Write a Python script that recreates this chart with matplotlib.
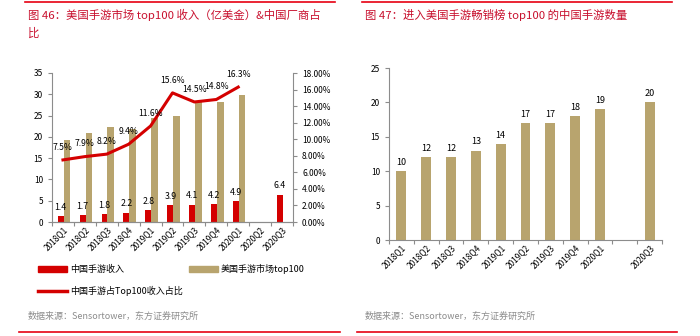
import numpy as np
import matplotlib
matplotlib.use("Agg")
import matplotlib.pyplot as plt
from matplotlib.lines import Line2D
from matplotlib.patches import Patch

plt.rcParams['font.family'] = ['Noto Sans CJK SC', 'DejaVu Sans']

#%% data
quarters = ['2018Q1', '2018Q2', '2018Q3', '2018Q4', '2019Q1', '2019Q2',
            '2019Q3', '2019Q4', '2020Q1', '2020Q2', '2020Q3']
cn_rev = [1.4, 1.7, 1.8, 2.2, 2.8, 3.9, 4.1, 4.2, 4.9, np.nan, 6.4]
us_top100 = [19.3, 21.0, 22.2, 21.8, 24.4, 24.8, 28.4, 28.3, 29.9, np.nan, np.nan]
cn_share = [7.5, 7.9, 8.2, 9.4, 11.6, 15.6, 14.5, 14.8, 16.3, np.nan, np.nan]

quarters_r = ['2018Q1', '2018Q2', '2018Q3', '2018Q4', '2019Q1', '2019Q2',
              '2019Q3', '2019Q4', '2020Q1', '', '2020Q3']
cn_games = [10, 12, 12, 13, 14, 17, 17, 18, 19, np.nan, 20]

RED = '#D40000'
TAN = '#B8A46E'
TITLE_RED = '#C8102E'
W, H = 700, 336


def px(x0, y0, x1, y1):
    # pixel box -> figure fraction [left, bottom, width, height]
    return [x0 / W, 1 - y1 / H, (x1 - x0) / W, (y1 - y0) / H]


def style_axis(ax):
    ax.spines['top'].set_visible(False)
    for s in ['left', 'right', 'bottom']:
        ax.spines[s].set_color('#8c8c8c')
        ax.spines[s].set_linewidth(0.8)
    ax.tick_params(axis='both', labelsize=6, color='#8c8c8c', length=3, width=0.8)


fig = plt.figure(figsize=(7, 3.36), dpi=100)

#%% left chart
x = np.arange(len(quarters))
ax = fig.add_axes(px(52, 73, 293, 222))
ax.bar(x - 0.1, cn_rev, width=0.28, color=RED, label='中国手游收入')
ax.bar(x + 0.18, us_top100, width=0.3, color=TAN, label='美国手游市场top100')
for xi, v in zip(x, cn_rev):
    if not np.isnan(v):
        ax.text(xi - 0.1, v + 1.0, f'{v:.1f}', ha='center', va='bottom', fontsize=6.3)
ax.set_xlim(-0.5, len(quarters) - 0.5)
ax.set_ylim(0, 35)
ax.set_yticks(range(0, 36, 5))
ax.set_xticks(np.arange(len(quarters) + 1) - 0.5, minor=False)
ax.set_xticklabels([])
ax.set_xticks(x, minor=True)
ax.set_xticklabels(quarters, minor=True, rotation=45, ha='right', rotation_mode='anchor')
ax.tick_params(axis='x', which='minor', length=0, labelsize=6, pad=2)
style_axis(ax)
ax.spines['right'].set_visible(False)

ax2 = ax.twinx()
ax2.plot(x, cn_share, color=RED, lw=2.2)
for xi, v in zip(x, cn_share):
    if not np.isnan(v):
        ax2.text(xi, v + 1.0, f'{v:.1f}%', ha='center', va='bottom', fontsize=6.2)
ax2.set_ylim(0, 18)
ax2.set_yticks(range(0, 19, 2))
ax2.set_yticklabels([f'{t:.2f}%' for t in range(0, 19, 2)])
style_axis(ax2)
ax2.spines['left'].set_visible(False)

handles = [Patch(color=RED), Line2D([], [], color=RED, lw=2.5), Patch(color=TAN)]
labels = ['中国手游收入', '中国手游占Top100收入占比', '美国手游市场top100']
fig.legend(handles, labels, loc='upper left', bbox_to_anchor=(30 / W, 1 - 256 / H),
           ncol=2, frameon=False, fontsize=6.5, handlelength=3.2, handleheight=0.6,
           columnspacing=0.7, labelspacing=1.3, handletextpad=0.3)

#%% right chart
xr = np.arange(len(quarters_r))
axr = fig.add_axes(px(389, 68, 662, 240))
axr.bar(xr, cn_games, width=0.4, color=TAN)
for xi, v in zip(xr, cn_games):
    if not np.isnan(v):
        axr.text(xi, v + 0.6, f'{v:.0f}', ha='center', va='bottom', fontsize=6.5)
axr.set_xlim(-0.5, len(quarters_r) - 0.5)
axr.set_ylim(0, 25)
axr.set_yticks(range(0, 26, 5))
axr.set_xticks(np.arange(len(quarters_r) + 1) - 0.5)
axr.set_xticklabels([])
axr.set_xticks(xr, minor=True)
axr.set_xticklabels(quarters_r, minor=True, rotation=45, ha='right', rotation_mode='anchor')
axr.tick_params(axis='x', which='minor', length=0, labelsize=6, pad=2)
style_axis(axr)
axr.spines['right'].set_visible(False)

#%% titles, sources and rules
fig.text(28 / W, 1 - 15 / H, '图 46：美国手游市场 top100 收入（亿美金）&中国厂商占',
         color=TITLE_RED, fontsize=8.2, va='center')
fig.text(28 / W, 1 - 33 / H, '比', color=TITLE_RED, fontsize=8.2, va='center')
fig.text(365 / W, 1 - 15 / H, '图 47：进入美国手游畅销榜 top100 的中国手游数量',
         color=TITLE_RED, fontsize=8.2, va='center')
src = '数据来源：Sensortower，东方证券研究所'
fig.text(28 / W, 1 - 316 / H, src, color='#8c8c8c', fontsize=6.5, va='center')
fig.text(365 / W, 1 - 316 / H, src, color='#8c8c8c', fontsize=6.5, va='center')

for x0, x1 in [(25, 335), (362, 672)]:
    fig.add_artist(Line2D([x0 / W, x1 / W], [1 - 2 / H] * 2, color='#E60012', lw=1.2))
for x0, x1 in [(19, 340), (357, 677)]:
    fig.add_artist(Line2D([x0 / W, x1 / W], [1 - 332 / H] * 2, color='#E60012', lw=1.2))

fig.savefig('out.png', dpi=100)
